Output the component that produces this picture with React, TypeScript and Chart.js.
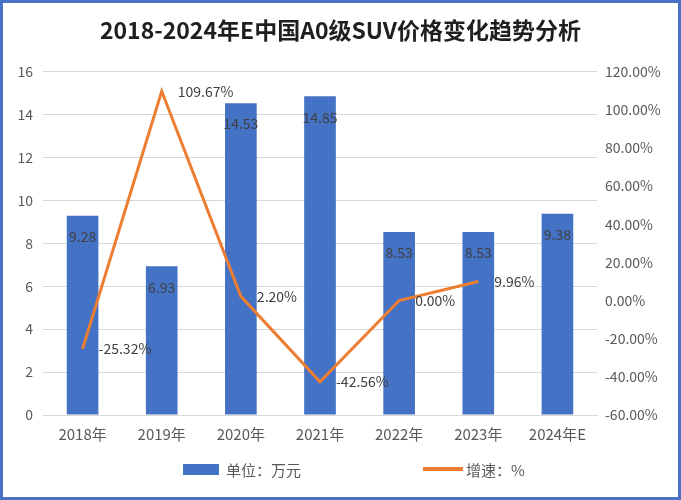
import React, { useEffect, useRef } from "react";
import { Chart, registerables } from "chart.js";

Chart.register(...registerables);

const categories = ["2018年", "2019年", "2020年", "2021年", "2022年", "2023年", "2024年E"];
const priceValues = [9.28, 6.93, 14.53, 14.85, 8.53, 8.53, 9.38];
const growthValues: (number | null)[] = [-25.32, 109.67, 2.2, -42.56, 0.0, 9.96, null];
const priceLabel = "单位：万元";
const growthLabel = "增速：%";
const titleText = "2018-2024年E中国A0级SUV价格变化趋势分析";

const FONT = "'Noto Sans CJK SC', 'Noto Sans', sans-serif";
const BLUE = "#4472C4";
const ORANGE = "#ED7D31";

const labelPlugin = {
  id: "valueLabels",
  afterDatasetsDraw(chart: any) {
    const ctx = chart.ctx;
    ctx.save();
    ctx.fillStyle = "#404040";
    const barMeta = chart.getDatasetMeta(0);
    ctx.font = `14px ${FONT}`;
    ctx.textAlign = "center";
    ctx.textBaseline = "middle";
    barMeta.data.forEach((el: any, i: number) => {
      ctx.fillText(priceValues[i].toFixed(2), el.x, el.y + 21);
    });
    const lineMeta = chart.getDatasetMeta(1);
    ctx.font = `14px ${FONT}`;
    ctx.textAlign = "left";
    lineMeta.data.forEach((el: any, i: number) => {
      const v = growthValues[i];
      if (v === null || v === undefined) return;
      ctx.fillText(v.toFixed(2) + "%", el.x + 16, el.y);
    });
    ctx.restore();
  },
};

export default function App() {
  const ref = useRef<HTMLCanvasElement>(null);
  useEffect(() => {
    document.body.style.margin = "0";
    const chart = new Chart(ref.current as HTMLCanvasElement, {
      type: "bar",
      data: {
        labels: categories,
        datasets: [
          {
            type: "bar",
            label: priceLabel,
            data: priceValues,
            backgroundColor: BLUE,
            yAxisID: "y",
            barPercentage: 0.4,
            categoryPercentage: 1,
            order: 2,
          },
          {
            type: "line",
            label: growthLabel,
            data: growthValues,
            borderColor: ORANGE,
            backgroundColor: ORANGE,
            borderWidth: 3,
            pointRadius: 0,
            tension: 0,
            yAxisID: "y1",
            order: 1,
          } as any,
        ],
      },
      options: {
        responsive: false,
        animation: false,
        layout: { padding: { left: 0, right: 0, top: 0, bottom: 50 } },
        plugins: {
          legend: { display: false },
          tooltip: { enabled: false },
          title: {
            display: true,
            text: titleText,
            color: "#1f1f1f",
            font: { family: FONT, size: 23, weight: "bold" },
            padding: { top: 13, bottom: 28 },
          },
        },
        scales: {
          x: {
            grid: { display: false, drawTicks: false },
            border: { display: true, color: "#d9d9d9", width: 1 },
            ticks: { color: "#595959", font: { family: FONT, size: 15 }, padding: 10, maxRotation: 0 },
            afterFit: (s: any) => { s.height = 32; },
          },
          y: {
            position: "left",
            min: 0,
            max: 16,
            ticks: { stepSize: 2, color: "#595959", font: { family: FONT, size: 14 }, padding: 10 },
            grid: { color: "#d9d9d9", drawTicks: false },
            border: { display: false },
            afterFit: (s: any) => { s.width = 40; },
          },
          y1: {
            position: "right",
            min: -60,
            max: 120,
            ticks: {
              stepSize: 20,
              color: "#595959",
              font: { family: FONT, size: 14 },
              padding: 8,
              callback: (v: any) => Number(v).toFixed(2) + "%",
            },
            grid: { display: false, drawTicks: false },
            border: { display: false },
            afterFit: (s: any) => { s.width = 81; },
          },
        },
      },
      plugins: [labelPlugin],
    } as any);
    return () => chart.destroy();
  }, []);

  return (
    <div
      style={{
        position: "relative",
        width: 681,
        height: 500,
        boxSizing: "border-box",
        border: "3px solid #4a72c4",
        background: "#fff",
        fontFamily: FONT,
      }}
    >
      <canvas ref={ref} width={675} height={494} style={{ display: "block" }} />
      <div style={{ position: "absolute", left: 180, top: 454, height: 24, display: "flex", alignItems: "center", fontSize: 15, color: "#595959" }}>
        <span style={{ display: "inline-block", width: 36, height: 11, background: BLUE, marginRight: 7 }} />
        <span>{priceLabel}</span>
      </div>
      <div style={{ position: "absolute", left: 420, top: 454, height: 24, display: "flex", alignItems: "center", fontSize: 15, color: "#595959" }}>
        <span style={{ display: "inline-block", width: 40, height: 4, background: ORANGE, marginRight: 3 }} />
        <span>{growthLabel}</span>
      </div>
    </div>
  );
}
